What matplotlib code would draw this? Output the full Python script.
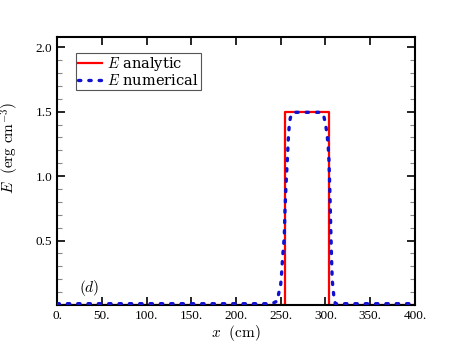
import matplotlib
matplotlib.use("Agg")
import matplotlib.pyplot as plt
from matplotlib.ticker import MultipleLocator, FixedLocator

plt.rcParams['font.family'] = ['Liberation Serif', 'DejaVu Serif']
plt.rcParams['mathtext.fontset'] = 'cm'

# analytic step profile
x_analytic = [0, 255, 255, 304, 304, 400]
e_analytic = [0.0, 0.0, 1.5, 1.5, 0.0, 0.0]

# numerical profile
x_num = [0, 240, 246, 248.4, 250, 251, 252.1, 254, 254.7, 255.9, 257.4, 258.5,
         259.6, 260.7, 262.2, 265, 295, 298.3, 300.2, 302, 303.2, 303.9, 304.7,
         305.4, 306.1, 306.9, 307.6, 309.2, 311, 400]
e_num = [0.01, 0.01, 0.03, 0.11, 0.16, 0.245, 0.37, 0.53, 0.72, 0.93, 1.125, 1.29,
         1.40, 1.45, 1.48, 1.495, 1.495, 1.46, 1.40, 1.31, 1.22, 1.125, 0.94,
         0.75, 0.55, 0.34, 0.19, 0.08, 0.01, 0.01]

x_ticks = [0, 50, 100, 150, 200, 250, 300, 350, 400]
x_tick_labels = ["0.", "50.", "100.", "150.", "200.", "250.", "300.", "350.", "400."]
y_ticks = [0.5, 1.0, 1.5, 2.0]

fig = plt.figure(figsize=(4.6, 3.45), dpi=100)
ax = fig.add_axes([0.124, 0.116, 0.778, 0.777])

ax.plot(x_analytic, e_analytic, color='red', lw=1.6, label=r'$E$ analytic', zorder=2)
ax.plot(x_num, e_num, color='#1010d0', lw=2.4, linestyle=(0, (0.7, 2.4)),
        dash_capstyle='round', label=r'$E$ numerical', zorder=3)

ax.set_xlim(0, 400)
ax.set_ylim(0, 2.08)
ax.xaxis.set_major_locator(FixedLocator(x_ticks))
ax.set_xticklabels(x_tick_labels)
ax.yaxis.set_major_locator(FixedLocator(y_ticks))
ax.yaxis.set_minor_locator(MultipleLocator(0.1))
ax.set_yticklabels(["0.5", "1.0", "1.5", "2.0"])

ax.tick_params(which='both', direction='in', top=True, right=True, labelsize=9.5,
               width=1.2, color='black')
ax.tick_params(which='major', length=6)
ax.tick_params(which='minor', length=3.5, width=0.8, color='#888888')
for s in ax.spines.values():
    s.set_linewidth(1.5)

ax.set_xlabel(r'$x\ \ \mathrm{(cm)}$', fontsize=11, labelpad=1)
ax.set_ylabel(r'$E\ \ \mathrm{(erg\ cm^{-3})}$', fontsize=11)
ax.yaxis.set_label_coords(-0.10, 0.586)

ax.text(25, 0.13, r'$(d)$', fontsize=11, va='center')

leg = ax.legend(loc='upper left', bbox_to_anchor=(0.053, 0.94), borderaxespad=0,
                prop={'family': 'DejaVu Serif', 'size': 10.5}, fancybox=False,
                edgecolor='#555555', framealpha=1, handlelength=1.6,
                borderpad=0.15, labelspacing=0.0, handletextpad=0.4)
leg.get_frame().set_linewidth(0.8)

fig.savefig("out.png", dpi=100)
